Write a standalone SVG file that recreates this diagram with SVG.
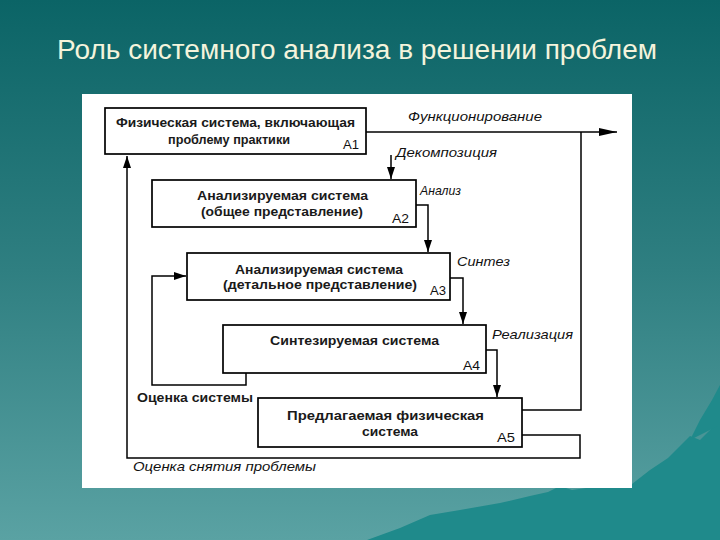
<svg xmlns="http://www.w3.org/2000/svg" width="720" height="540" viewBox="0 0 720 540">
<defs>
<linearGradient id="bg" x1="0" y1="0" x2="0" y2="1">
<stop offset="0" stop-color="#0b6466"/>
<stop offset="0.5" stop-color="#2f7f81"/>
<stop offset="1" stop-color="#5aa2a3"/>
</linearGradient>
<marker id="ah" viewBox="0 0 12 8" refX="12" refY="4" markerWidth="12" markerHeight="8" markerUnits="userSpaceOnUse" orient="auto">
<path d="M0,0 L12,4 L0,8 Z" fill="#000"/>
</marker>
<marker id="ahl" viewBox="0 0 18 8" refX="18" refY="4" markerWidth="18" markerHeight="8" markerUnits="userSpaceOnUse" orient="auto">
<path d="M0,0 L18,4 L0,8 Z" fill="#000"/>
</marker>
</defs>
<style>
.box{fill:#fff;stroke:#000;stroke-width:1.7}
.bt{font-family:"Liberation Sans",Arial,sans-serif;font-size:12px;font-weight:bold;fill:#1a1a1a;text-anchor:start}
.id{font-family:"Liberation Sans",Arial,sans-serif;font-size:13px;fill:#111}
.lab{font-family:"Liberation Sans",Arial,sans-serif;font-size:13px;font-style:italic;fill:#111}
.ln{fill:none;stroke:#000;stroke-width:1.5}
</style>
<rect width="720" height="540" fill="url(#bg)"/>
<path d="M367,540 L400,528 L430,515 L460,510 L500,503 L530,496 L548,492 L560,486 L572,490 L600,486 L632,484 L650,470 L668,458 L690,436 L700,440 L720,420 L720,540 Z" fill="#1f8a8b"/>
<path d="M690,440 L700,420 L712,400 L720,385 L720,425 Z" fill="#1f8a8b"/>
<text x="57" y="59" font-family="'Liberation Sans',Arial,sans-serif" font-size="27" fill="#f4f4dc" textLength="600" lengthAdjust="spacingAndGlyphs">Роль системного анализа в решении проблем</text>
<rect x="82" y="94" width="550" height="394" fill="#fff"/>

<g id="connectors">
<path class="ln" d="M366,132 H617" marker-end="url(#ahl)"/>
<path class="ln" d="M522,410 H581 V132"/>
<path class="ln" d="M391,155 V179" marker-end="url(#ah)"/>
<path class="ln" d="M416,205 H428 V252" marker-end="url(#ah)"/>
<path class="ln" d="M450,278 H463 V324" marker-end="url(#ah)"/>
<path class="ln" d="M486,350 H497 V397" marker-end="url(#ah)"/>
<path class="ln" d="M246,373 V385 H152 V276 H186" marker-end="url(#ah)"/>
<path class="ln" d="M522,435 H580 V458 H127 V156" marker-end="url(#ah)"/>
<text class="lab" x="408" y="121" textLength="134" lengthAdjust="spacingAndGlyphs">Функционирование</text>
<text class="lab" x="396" y="157" textLength="101" lengthAdjust="spacingAndGlyphs">Декомпозиция</text>
<text class="lab" x="420" y="195" textLength="41" lengthAdjust="spacingAndGlyphs">Анализ</text>
<text class="lab" x="457" y="266" textLength="53" lengthAdjust="spacingAndGlyphs">Синтез</text>
<text class="lab" x="492" y="339" textLength="81" lengthAdjust="spacingAndGlyphs">Реализация</text>
<text class="bt" x="137" y="402" textLength="116" lengthAdjust="spacingAndGlyphs">Оценка системы</text>
<text class="lab" x="133" y="471" textLength="183" lengthAdjust="spacingAndGlyphs">Оценка снятия проблемы</text>
</g>

<g id="A1">
<rect class="box" x="105" y="108" width="261" height="46"/>
<text class="bt" x="116" y="127" textLength="239" lengthAdjust="spacingAndGlyphs">Физическая система, включающая</text>
<text class="bt" x="168" y="144" textLength="122" lengthAdjust="spacingAndGlyphs">проблему практики</text>
<text class="id" x="343" y="149" textLength="16" lengthAdjust="spacingAndGlyphs">А1</text>
</g>
<g id="A2">
<rect class="box" x="152" y="180" width="264" height="47"/>
<text class="bt" x="197" y="200" textLength="171" lengthAdjust="spacingAndGlyphs">Анализируемая система</text>
<text class="bt" x="201" y="216" textLength="162" lengthAdjust="spacingAndGlyphs">(общее представление)</text>
<text class="id" x="392" y="223" textLength="17" lengthAdjust="spacingAndGlyphs">А2</text>
</g>
<g id="A3">
<rect class="box" x="187" y="253" width="263" height="47"/>
<text class="bt" x="235" y="274" textLength="168" lengthAdjust="spacingAndGlyphs">Анализируемая система</text>
<text class="bt" x="223" y="289" textLength="194" lengthAdjust="spacingAndGlyphs">(детальное представление)</text>
<text class="id" x="430" y="295" textLength="16" lengthAdjust="spacingAndGlyphs">А3</text>
</g>
<g id="A4">
<rect class="box" x="223" y="325" width="263" height="48"/>
<text class="bt" x="270" y="345" textLength="169" lengthAdjust="spacingAndGlyphs">Синтезируемая система</text>
<text class="id" x="463" y="370" textLength="17" lengthAdjust="spacingAndGlyphs">А4</text>
</g>
<g id="A5">
<rect class="box" x="258" y="398" width="264" height="49"/>
<text class="bt" x="287" y="420" textLength="197" lengthAdjust="spacingAndGlyphs">Предлагаемая физическая</text>
<text class="bt" x="362" y="436" textLength="56" lengthAdjust="spacingAndGlyphs">система</text>
<text class="id" x="497" y="442" textLength="18" lengthAdjust="spacingAndGlyphs">А5</text>
</g>
</svg>
